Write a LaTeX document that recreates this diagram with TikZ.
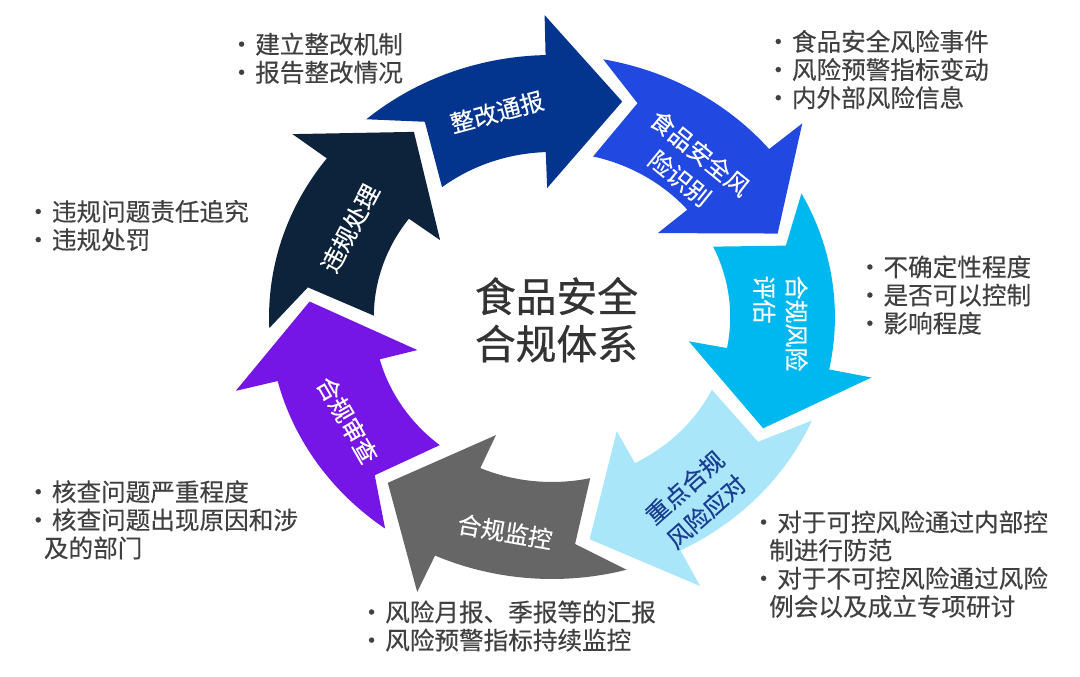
\documentclass[tikz,border=0pt]{standalone}
\usepackage{fontspec}
\setmainfont{Noto Sans CJK SC}
\newfontfamily\semibold{Noto Sans CJK SC}[FakeBold=0.6]
\newfontfamily\medfont{Noto Sans CJK SC}[FakeBold=0.3]
\definecolor{cA}{HTML}{03358F}
\definecolor{cB}{HTML}{2149E1}
\definecolor{cC}{HTML}{00B8F0}
\definecolor{cD}{HTML}{AAE6FA}
\definecolor{cE}{HTML}{666666}
\definecolor{cF}{HTML}{7516E6}
\definecolor{cG}{HTML}{0D233B}
\definecolor{txtD}{HTML}{1A3E92}
\definecolor{txtgray}{HTML}{404040}
\definecolor{centergray}{HTML}{333333}
\newcommand\bul{\hspace*{3pt}\makebox[0pt]{·}\hspace*{9.7pt}}
\newcommand\cont{\hspace*{7pt}}
\begin{document}
\begin{tikzpicture}[x=0.025cm,y=0.025cm,
  sidetxt/.style={anchor=west, align=left, inner sep=0pt, text=txtgray, font=\medfont\fontsize{17.5}{20}\selectfont},
  lbl/.style={inner sep=0pt, align=center, text=white, font=\medfont\fontsize{17}{23}\selectfont},
  centertxt/.style={inner sep=0pt, align=center, text=centergray, font=\semibold\fontsize{29}{33.7}\selectfont}]
\useasboundingbox (-552,-360) rectangle (528,317);
\fill[white] (-552,-360) rectangle (528,317);
% ring of arrows
\begin{scope}[xscale=1.08]
\foreach \k/\c in {0/cA,1/cB,2/cC,3/cD,4/cE,5/cF,6/cG}{
  \fill[\c, rotate=-51.4286*\k] (131:262) -- (121.1:228) -- (128.1:165)
    arc[start angle=128.1, end angle=92, radius=165] -- (92:129) -- (73.2:225)
    -- (91.3:302) -- (91.3:262) arc[start angle=91.3, end angle=131, radius=262] -- cycle;
}
\end{scope}
% labels in arrows
\node[lbl, rotate=15] (l1) at (-55,205) {整改通报};
\node[lbl, rotate=-39] (l2) at (138,151.2) {食品安全风\\险识别};
\node[lbl, rotate=-90, align=left] (l3) at (228.5,-6.5) {合规风险\\评估};
\node[lbl, rotate=41.5, text=txtD] (l4) at (143.4,-182.6) {重点合规\\风险应对};
\node[lbl, rotate=-10] (l5) at (-47,-214.7) {合规监控};
\node[lbl, rotate=-60] (l6) at (-204.5,-103) {合规审查};
\node[lbl, rotate=62] (l7) at (-202,88.7) {违规处理};
% centre
\node[centertxt] (ctr) at (4.5,-2.75) {食品安全\\合规体系};
% side notes
\node[sidetxt] (g1) at (-314.9,258.75) {\bul 建立整改机制\\\bul 报告整改情况};
\node[sidetxt] (g2) at (221.8,247.5) {\bul 食品安全风险事件\\\bul 风险预警指标变动\\\bul 内外部风险信息};
\node[sidetxt] (g3) at (313.4,22) {\bul 不确定性程度\\\bul 是否可以控制\\\bul 影响程度};
\node[sidetxt] (g4) at (207.1,-247.25) {\bul 对于可控风险通过内部控\\\cont 制进行防范\\\bul 对于不可控风险通过风险\\\cont 例会以及成立专项研讨};
\node[sidetxt] (g5) at (-184.9,-309) {\bul 风险月报、季报等的汇报\\\bul 风险预警指标持续监控};
\node[sidetxt] (g6) at (-518.2,-202.8) {\bul 核查问题严重程度\\\bul 核查问题出现原因和涉\\\cont 及的部门};
\node[sidetxt] (g7) at (-518.2,91.5) {\bul 违规问题责任追究\\\bul 违规处罚};
\end{tikzpicture}
\end{document}
